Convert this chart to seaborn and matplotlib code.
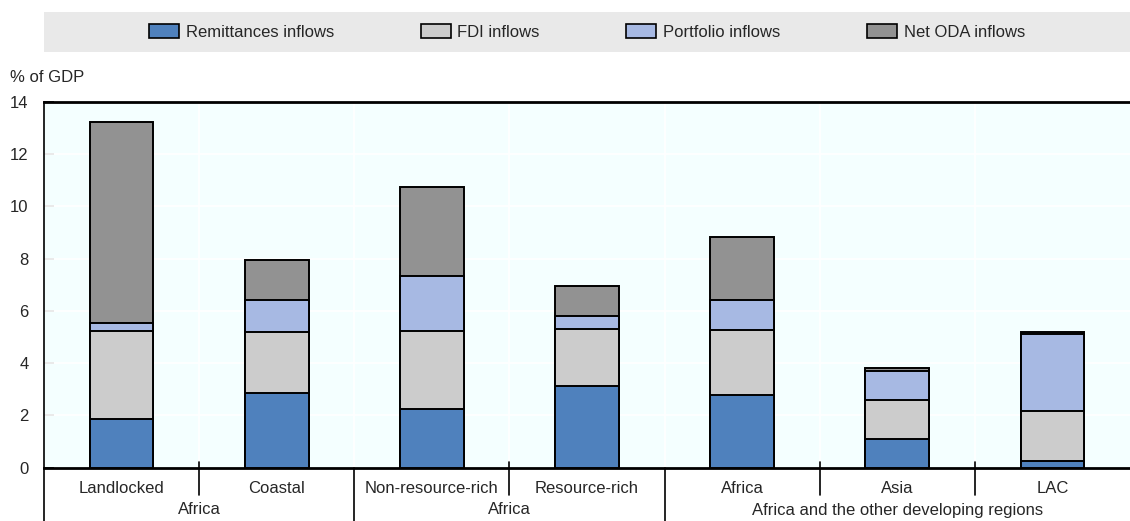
import matplotlib
matplotlib.use("Agg")
import matplotlib.pyplot as plt
import matplotlib.transforms as mtransforms
from matplotlib.patches import Patch, Rectangle
import numpy as np
import pandas as pd
import seaborn as sns

# ---------------- data ----------------
categories = ["Landlocked", "Coastal", "Non-resource-rich", "Resource-rich", "Africa", "Asia", "LAC"]
group_names = ["Africa", "Africa", "Africa and the other developing regions"]
group_first = [0, 2, 4]
group_last = [1, 3, 6]

series_names = ["Remittances inflows", "FDI inflows", "Portfolio inflows", "Net ODA inflows"]
remittances = [1.84, 2.85, 2.25, 3.14, 2.76, 1.11, 0.25]
fdi = [3.37, 2.35, 2.97, 2.18, 2.51, 1.49, 1.91]
portfolio = [0.32, 1.22, 2.11, 0.47, 1.14, 1.09, 2.97]
net_oda = [7.71, 1.51, 3.40, 1.15, 2.43, 0.13, 0.05]

y_ticks = [0, 2, 4, 6, 8, 10, 12, 14]
y_label = "% of GDP"

colors = ["#4F81BD", "#CCCCCC", "#A7B9E3", "#929292"]

# ---------------- figure ----------------
sns.set_theme(style="white")
plt.rcParams["font.family"] = ["Liberation Sans Narrow", "Liberation Sans", "DejaVu Sans"]

W, H = 1130, 521
fig = plt.figure(figsize=(W / 100, H / 100), dpi=100)
ax_left, ax_right = 44 / W, 1.0
ax_bottom_px, ax_top_px = 467.5, 102
ax = fig.add_axes([ax_left, (H - ax_bottom_px) / H, ax_right - ax_left, (ax_bottom_px - ax_top_px) / H])
ax.set_facecolor("#F4FFFF")

values = np.array([remittances, fdi, portfolio, net_oda])
tops = np.cumsum(values, axis=0)

# draw cumulative stacks from the top layer down so each layer sits on the previous
for i in range(len(series_names) - 1, -1, -1):
    df = pd.DataFrame({"category": categories, "top": tops[i]})
    sns.barplot(data=df, x="category", y="top", order=categories, color=colors[i],
                saturation=1, width=0.41, edgecolor="black", linewidth=1.4,
                errorbar=None, ax=ax, zorder=3)

ax.set_xlabel("")
ax.set_ylabel("")
ax.set_xlim(-0.5, len(categories) - 0.5)
ax.set_ylim(0, 14)
ax.set_yticks(y_ticks)
ax.set_yticklabels([str(t) for t in y_ticks])
ax.tick_params(axis="y", direction="in", length=7, width=1.2, color="black",
               labelsize=12, pad=11, left=True)
ax.tick_params(axis="x", length=0, labelsize=12, pad=10)

# grid
for t in y_ticks[1:-1]:
    ax.axhline(t, color="white", lw=1.3, zorder=1)
for b in np.arange(0.5, len(categories) - 0.5, 1.0):
    ax.axvline(b, color="white", lw=1.3, zorder=1)

# spines
for s in ["top", "bottom"]:
    ax.spines[s].set_color("black")
    ax.spines[s].set_linewidth(2)
ax.spines["left"].set_color("black")
ax.spines["left"].set_linewidth(1.2)
ax.spines["right"].set_visible(False)

# separators and group labels
ax_h_px = ax_bottom_px - ax_top_px
trans = mtransforms.blended_transform_factory(ax.transData, ax.transAxes)
minor_top = 6 / ax_h_px
minor_bot = -(495 - ax_bottom_px) / ax_h_px
major_bot = -(H - ax_bottom_px) / ax_h_px
group_bounds = set([g - 0.5 for g in group_first])
for b in np.arange(-0.5, len(categories) - 0.5, 1.0):
    if b in group_bounds:
        ax.plot([b, b], [0, major_bot], color="black", lw=1.2, transform=trans, clip_on=False, zorder=5)
    else:
        ax.plot([b, b], [minor_top, minor_bot], color="black", lw=1.2, transform=trans, clip_on=False, zorder=5)

for name, a, b in zip(group_names, group_first, group_last):
    ax.text((a + b) / 2, -(510 - ax_bottom_px) / ax_h_px, name, transform=trans,
            ha="center", va="center", fontsize=12)

# y label
fig.text(10 / W, (H - 78) / H, y_label, ha="left", va="center", fontsize=12)

# legend band
band = Rectangle((ax_left, (H - 52) / H), 1 - ax_left, 40 / H, transform=fig.transFigure,
                 facecolor="#E9E9E9", edgecolor="none", zorder=0)
fig.patches.append(band)
handles = [Patch(facecolor=c, edgecolor="black", linewidth=1.2) for c in colors]
fig.legend(handles, series_names, loc="center", bbox_to_anchor=((ax_left + 1) / 2, (H - 32) / H),
           ncol=4, frameon=False, fontsize=12, handlelength=1.8, handleheight=0.85,
           handletextpad=0.4, columnspacing=5.2)

fig.savefig("out.png", dpi=100)
